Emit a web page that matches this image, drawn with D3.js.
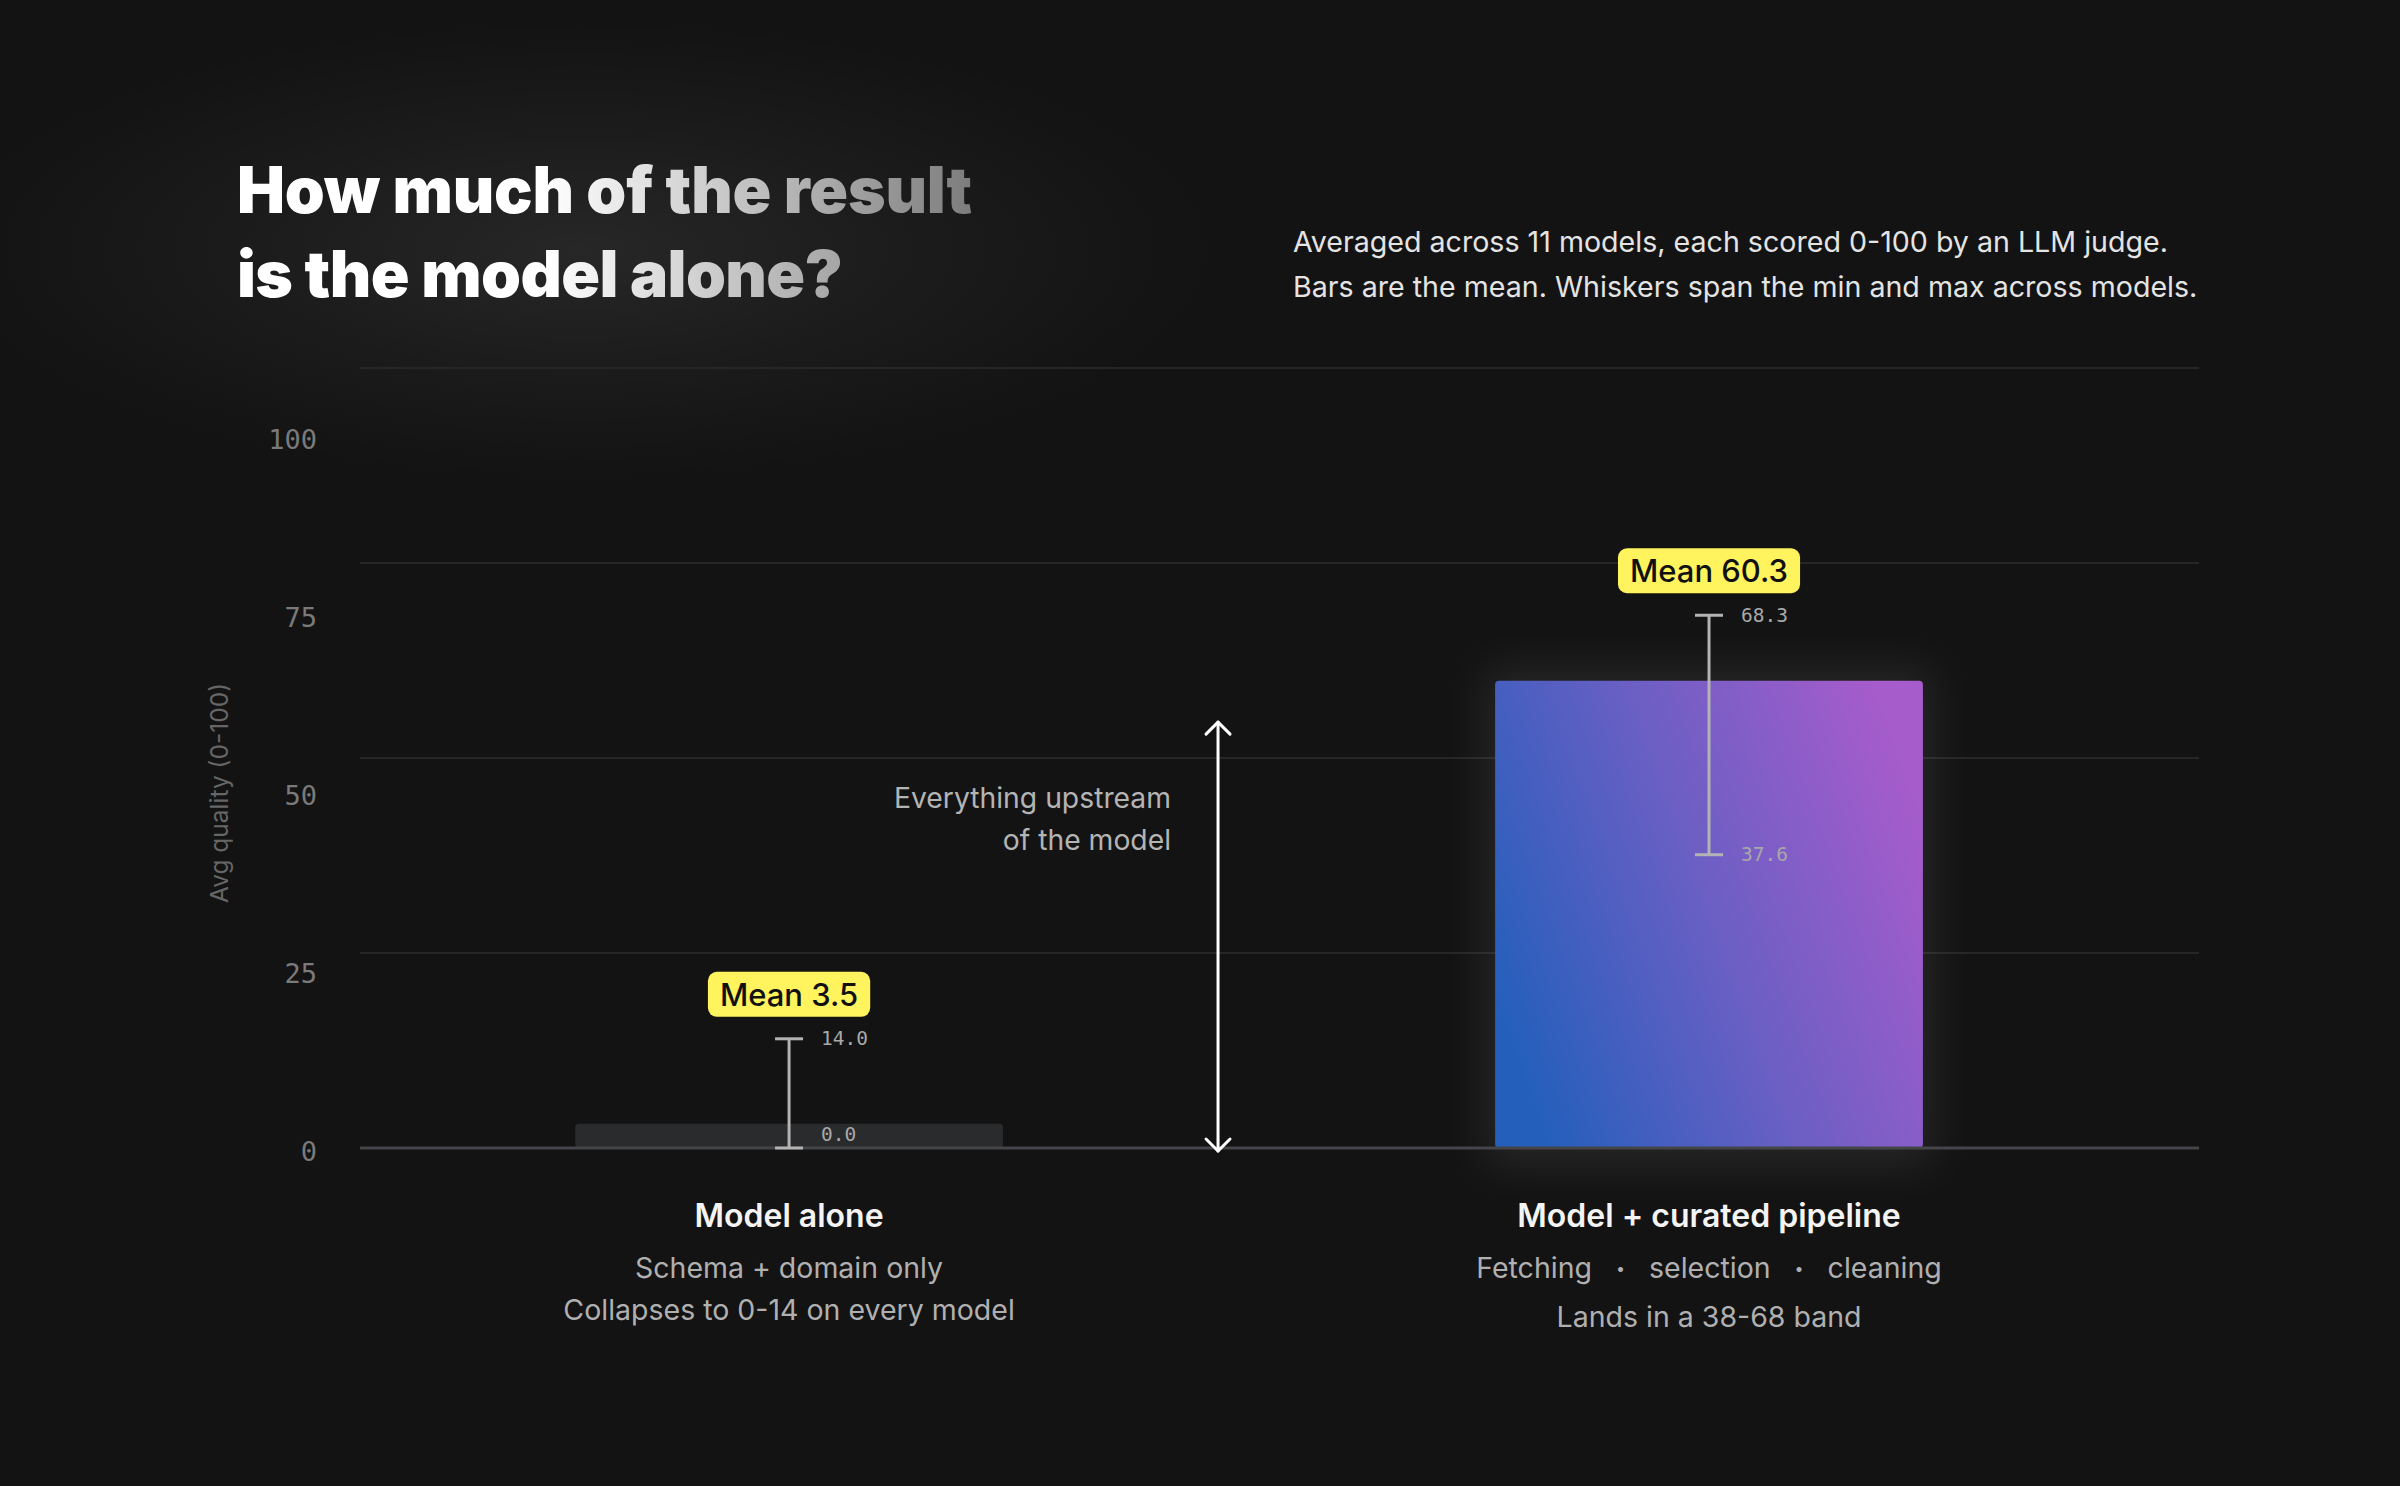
<!DOCTYPE html>
<html>
<head>
<meta charset="utf-8">
<script src="https://cdn.jsdelivr.net/npm/d3@7"></script>
<style>
  html, body { margin: 0; padding: 0; background: #131313; }
  svg { display: block; }
</style>
</head>
<body>
<svg id="chart" width="2400" height="1486"></svg>
<script>
// ---------------- DATA ----------------
const categories = ["Model alone", "Model + curated pipeline"];
const means = [3.5, 60.3];
const mins = [0.0, 37.6];
const maxs = [14.0, 68.3];
const categorySubLines = [
  ["Schema + domain only", "Collapses to 0-14 on every model"],
  [["Fetching", "selection", "cleaning"], "Lands in a 38-68 band"]
];
const yTicks = [0, 25, 50, 75, 100];
const gridValues = [25, 50, 75, 100];
const arrowSpan = [0, 54.6];
const titleLines = ["How much of the result", "is the model alone?"];
const subtitleLines = [
  "Averaged across 11 models, each scored 0-100 by an LLM judge.",
  "Bars are the mean. Whiskers span the min and max across models."
];
const annotationLines = ["Everything upstream", "of the model"];
const yAxisTitle = "Avg quality (0-100)";

// ---------------- LAYOUT ----------------
const W = 2400, H = 1486;
const plotL = 360, plotR = 2199, plotB = 1148, plotT = 368;
const sans = "Inter, 'Noto Sans', sans-serif";
const mono = "'DejaVu Sans Mono', 'Liberation Mono', monospace";

const svg = d3.select("#chart");
const defs = svg.append("defs");

// title glow
const rg = defs.append("radialGradient").attr("id", "titleGlow");
rg.append("stop").attr("offset", "0%").attr("stop-color", "#ffffff").attr("stop-opacity", 0.085);
rg.append("stop").attr("offset", "60%").attr("stop-color", "#ffffff").attr("stop-opacity", 0.03);
rg.append("stop").attr("offset", "100%").attr("stop-color", "#ffffff").attr("stop-opacity", 0);

// title text gradient
const tg = defs.append("linearGradient").attr("id", "titleGrad")
  .attr("gradientUnits", "userSpaceOnUse").attr("x1", 239).attr("x2", 974).attr("y1", 0).attr("y2", 0);
tg.append("stop").attr("offset", "0%").attr("stop-color", "#ffffff");
tg.append("stop").attr("offset", "42%").attr("stop-color", "#ffffff");
tg.append("stop").attr("offset", "100%").attr("stop-color", "#7c7c7c");

// bar gradient
const bg = defs.append("linearGradient").attr("id", "barGrad")
  .attr("x1", 0).attr("y1", 0.7).attr("x2", 1).attr("y2", 0.3);
bg.append("stop").attr("offset", "0%").attr("stop-color", "#245fbc");
bg.append("stop").attr("offset", "50%").attr("stop-color", "#6a5fc4");
bg.append("stop").attr("offset", "100%").attr("stop-color", "#a65ccb");

const blur = defs.append("filter").attr("id", "blurGlow")
  .attr("x", "-40%").attr("y", "-40%").attr("width", "180%").attr("height", "180%");
blur.append("feGaussianBlur").attr("stdDeviation", 22);

// background
svg.append("rect").attr("width", W).attr("height", H).attr("fill", "#131313");
svg.append("ellipse").attr("cx", 580).attr("cy", 250).attr("rx", 640).attr("ry", 230)
  .attr("fill", "url(#titleGlow)");

// ---------------- SCALES ----------------
const y = d3.scaleLinear().domain([0, 100]).range([plotB, plotT]);
const yLabel = d3.scaleLinear().domain([0, 100]).range([1151, 439]);
const x = d3.scaleBand().domain(categories).range([plotL, plotR])
  .paddingInner(0.535).paddingOuter(0.267).align(0.438);
const bw = x.bandwidth();

// ---------------- TITLE ----------------
const titleWidths = [735, 606];
const title = svg.append("text").attr("font-family", sans).attr("font-weight", 900)
  .attr("font-size", 64).attr("fill", "url(#titleGrad)");
titleLines.forEach((t, i) => {
  title.append("tspan").attr("x", 237).attr("y", 213 + i * 84)
    .attr("textLength", titleWidths[i]).attr("lengthAdjust", "spacing").text(t);
});

const sub = svg.append("text").attr("font-family", sans).attr("font-size", 28.6)
  .attr("fill", "#e4e4e4");
subtitleLines.forEach((t, i) => {
  sub.append("tspan").attr("x", 1293).attr("y", 252 + i * 45).text(t);
});

// ---------------- GRID ----------------
svg.append("g").selectAll("line").data(gridValues).join("line")
  .attr("x1", plotL).attr("x2", plotR)
  .attr("y1", d => y(d)).attr("y2", d => y(d))
  .attr("stroke", "#262626").attr("stroke-width", 2);

// y tick labels
svg.append("g").selectAll("text").data(yTicks).join("text")
  .attr("x", 317).attr("y", d => yLabel(d))
  .attr("text-anchor", "end").attr("dominant-baseline", "central")
  .attr("font-family", mono).attr("font-size", 27).attr("fill", "#7a7a7a")
  .text(d => d);

svg.append("text")
  .attr("transform", `translate(${228},${793}) rotate(-90)`)
  .attr("text-anchor", "middle")
  .attr("font-family", sans).attr("font-size", 24.5).attr("fill", "#666666")
  .text(yAxisTitle);

// ---------------- BARS ----------------
const barsG = svg.append("g");
barsG.append("rect")
  .attr("x", x(categories[1]) - 8).attr("y", y(means[1]) - 8)
  .attr("width", bw + 16).attr("height", y(0) - y(means[1]) + 24)
  .attr("fill", "#ffffff").attr("opacity", 0.085).attr("filter", "url(#blurGlow)");

barsG.selectAll("rect.bar").data(categories).join("rect").attr("class", "bar")
  .attr("x", d => x(d))
  .attr("y", (d, i) => y(means[i]) + 3)
  .attr("width", bw)
  .attr("height", (d, i) => y(0) - y(means[i]) - 3)
  .attr("rx", 4)
  .attr("fill", (d, i) => i === 0 ? "#2a2b2d" : "url(#barGrad)");

// baseline
svg.append("line").attr("x1", plotL).attr("x2", plotR)
  .attr("y1", y(0)).attr("y2", y(0))
  .attr("stroke", "#444548").attr("stroke-width", 3);

// ---------------- WHISKERS ----------------
const wG = svg.append("g");
categories.forEach((c, i) => {
  const cx = x(c) + bw / 2;
  wG.append("line").attr("x1", cx).attr("x2", cx)
    .attr("y1", y(maxs[i])).attr("y2", y(mins[i]))
    .attr("stroke", "#b3b3b3").attr("stroke-width", 3);
  [maxs[i], mins[i]].forEach(v => {
    wG.append("line").attr("x1", cx - 14).attr("x2", cx + 14)
      .attr("y1", y(v)).attr("y2", y(v))
      .attr("stroke", "#b3b3b3").attr("stroke-width", 3);
    wG.append("text").attr("x", cx + 32)
      .attr("y", Math.min(y(v), y(0) - 14))
      .attr("dominant-baseline", "central")
      .attr("font-family", mono).attr("font-size", 19.5).attr("fill", "#a8a8a8")
      .text(v.toFixed(1));
  });

  // mean label
  const lg = svg.append("g");
  const txt = lg.append("text")
    .attr("x", cx).attr("y", y(maxs[i]) - 22 - 22.5)
    .attr("text-anchor", "middle").attr("dominant-baseline", "central")
    .attr("font-family", sans).attr("font-weight", 500).attr("font-size", 31)
    .attr("fill", "#111111")
    .text("Mean " + means[i].toFixed(1));
  const tw = txt.node().getComputedTextLength();
  lg.insert("rect", "text")
    .attr("x", cx - tw / 2 - 12).attr("y", y(maxs[i]) - 22 - 45)
    .attr("width", tw + 24).attr("height", 45).attr("rx", 9)
    .attr("fill", "#fff35e");
});

// ---------------- ARROW ANNOTATION ----------------
const gapL = x(categories[0]) + bw, gapR = x(categories[1]);
const ax = gapL + (gapR - gapL) * 0.437;
const aG = svg.append("g").attr("stroke", "#ffffff").attr("stroke-width", 3)
  .attr("fill", "none").attr("stroke-linecap", "round").attr("stroke-linejoin", "round");
const aTop = y(arrowSpan[1]), aBot = y(arrowSpan[0]) + 3;
aG.append("line").attr("x1", ax).attr("x2", ax).attr("y1", aTop).attr("y2", aBot);
aG.append("path").attr("d", `M${ax - 12},${aTop + 12} L${ax},${aTop} L${ax + 12},${aTop + 12}`);
aG.append("path").attr("d", `M${ax - 12},${aBot - 12} L${ax},${aBot} L${ax + 12},${aBot - 12}`);

const ann = svg.append("text").attr("font-family", sans).attr("font-size", 28.3)
  .attr("fill", "#b4b4b4").attr("text-anchor", "end");
annotationLines.forEach((t, i) => {
  ann.append("tspan").attr("x", ax - 47).attr("y", 808 + i * 42).text(t);
});

// ---------------- CATEGORY LABELS ----------------
categories.forEach((c, i) => {
  const cx = x(c) + bw / 2;
  svg.append("text").attr("x", cx).attr("y", y(0) + 79)
    .attr("text-anchor", "middle")
    .attr("font-family", sans).attr("font-weight", 600).attr("font-size", 32)
    .attr("fill", "#f4f4f4").text(c);
  let ly = y(0) + 130;
  categorySubLines[i].forEach(line => {
    if (Array.isArray(line)) {
      const g = svg.append("g");
      const parts = [];
      line.forEach((p, k) => {
        if (k > 0) parts.push({ t: "•", bullet: true });
        parts.push({ t: p, bullet: false });
      });
      const nodes = parts.map(p => g.append("text")
        .attr("y", ly)
        .attr("font-family", sans)
        .attr("font-size", p.bullet ? 16 : 28.5)
        .attr("fill", "#b0b0b0").text(p.t));
      const gap = 24;
      const widths = nodes.map(n => n.node().getComputedTextLength());
      const total = d3.sum(widths) + gap * (nodes.length - 1);
      let cur = cx - total / 2;
      nodes.forEach((n, k) => {
        n.attr("x", cur).attr("dy", parts[k].bullet ? -4 : 0);
        cur += widths[k] + gap;
      });
      ly += 49;
    } else {
      svg.append("text").attr("x", cx).attr("y", ly)
        .attr("text-anchor", "middle")
        .attr("font-family", sans).attr("font-size", 28.5)
        .attr("fill", "#b0b0b0").text(line);
      ly += 42;
    }
  });
});
</script>
</body>
</html>
